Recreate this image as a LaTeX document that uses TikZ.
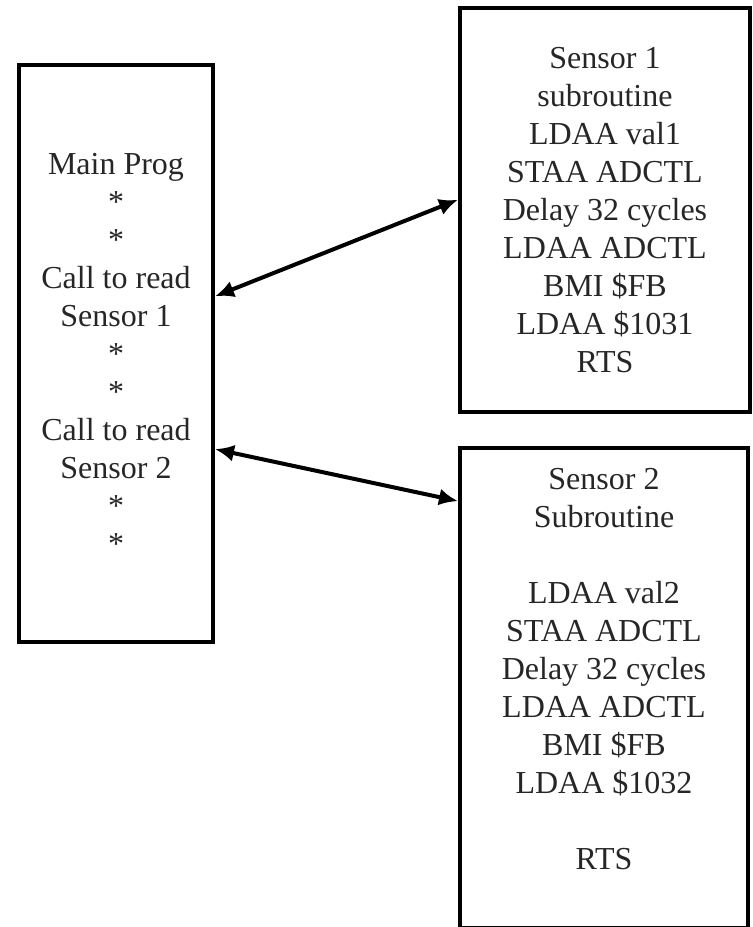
\documentclass[tikz,border=0pt]{standalone}
\usepackage{fontspec}
\setmainfont{Liberation Serif}
\usetikzlibrary{arrows.meta}

\begin{document}
\begin{tikzpicture}[x=0.5pt,y=-0.5pt,line width=2pt,
    box/.style={draw,align=center,text=black!85,inner sep=0pt,
      font=\fontsize{16}{19}\selectfont},
    >={Latex[length=9.5pt,width=8.5pt]}]
\useasboundingbox (0,0) rectangle (752,927);
\path[draw] % the three program boxes
       node[box,minimum width=97pt,minimum height=288.5pt] (main) at (116,353.5)
         {Main Prog\\ *\\ *\\ Call to read\\ Sensor 1\\ *\\ *\\ Call to read\\ Sensor 2\\ *\\ *}
       node[box,minimum width=145pt,minimum height=202pt] (sub1) at (605,210)
         {Sensor 1\\ subroutine\\ LDAA val1\\ STAA ADCTL\\ Delay 32 cycles\\ LDAA ADCTL\\ BMI \$FB\\ LDAA \$1031\\ RTS}
       node[box,minimum width=144pt,minimum height=240pt] (sub2) at (604,688)
         {Sensor 2\\ Subroutine\\ ~\\ LDAA val2\\ STAA ADCTL\\ Delay 32 cycles\\ LDAA ADCTL\\ BMI \$FB\\ LDAA \$1032\\ ~\\ RTS\\ ~} ;

   \draw[<->] (main.30.1) -- (sub1.176.9) ;
   \draw[<->] (main.-44.9) -- (sub2.128.9) ;

\end{tikzpicture}
\end{document}
